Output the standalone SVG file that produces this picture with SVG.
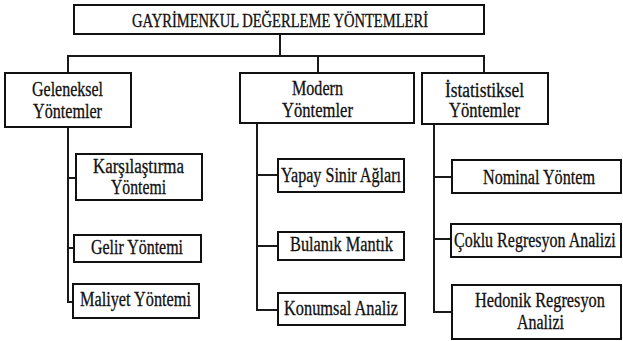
<svg xmlns="http://www.w3.org/2000/svg" width="623" height="341" viewBox="0 0 623 341">
<style>
.box{fill:#fff;stroke:#111;stroke-width:2}
.conn{fill:none;stroke:#1a1a1a;stroke-width:2}
.t{font-family:"Liberation Serif","DejaVu Serif",serif;font-size:20px;fill:#111;stroke:#111;stroke-width:0.3}
.title{font-size:18px}
</style>
<rect width="623" height="341" fill="#fff"/>
<g id="connectors">
<path class="conn" d="M280,34V56M68,73V56H484V73M318,56V73"/>
<path class="conn" d="M68,127V302H73M68,178H76M68,248H74"/>
<path class="conn" d="M257,123V310H278M257,175H278M257,246H278"/>
<path class="conn" d="M434,124V312H452M434,177H452M434,239H451"/>
</g>
<g id="root">
<rect class="box" x="74" y="5" width="410" height="29"/>
<text class="t title" x="132" y="26.5" textLength="296" lengthAdjust="spacingAndGlyphs">GAYRİMENKUL DEĞERLEME YÖNTEMLERİ</text>
</g>
<g id="geleneksel">
<rect class="box" x="5" y="73" width="126" height="54"/>
<text class="t" x="32" y="96" textLength="71" lengthAdjust="spacingAndGlyphs">Geleneksel</text>
<text class="t" x="33" y="118" textLength="69" lengthAdjust="spacingAndGlyphs">Yöntemler</text>
</g>
<g id="modern">
<rect class="box" x="240" y="73" width="174" height="50"/>
<text class="t" x="292" y="95" textLength="51" lengthAdjust="spacingAndGlyphs">Modern</text>
<text class="t" x="282" y="117" textLength="71" lengthAdjust="spacingAndGlyphs">Yöntemler</text>
</g>
<g id="istatistiksel">
<rect class="box" x="422" y="73" width="126" height="51"/>
<text class="t" x="445" y="97" textLength="79" lengthAdjust="spacingAndGlyphs">İstatistiksel</text>
<text class="t" x="449" y="117" textLength="71" lengthAdjust="spacingAndGlyphs">Yöntemler</text>
</g>
<g id="karsilastirma">
<rect class="box" x="76" y="154" width="126" height="46"/>
<text class="t" x="93" y="173" textLength="91" lengthAdjust="spacingAndGlyphs">Karşılaştırma</text>
<text class="t" x="111" y="194" textLength="55" lengthAdjust="spacingAndGlyphs">Yöntemi</text>
</g>
<g id="gelir">
<rect class="box" x="74" y="235" width="127" height="27"/>
<text class="t" x="91" y="254" textLength="92" lengthAdjust="spacingAndGlyphs">Gelir Yöntemi</text>
</g>
<g id="maliyet">
<rect class="box" x="73" y="284" width="126" height="34"/>
<text class="t" x="80" y="306" textLength="111" lengthAdjust="spacingAndGlyphs">Maliyet Yöntemi</text>
</g>
<g id="yapay">
<rect class="box" x="278" y="159" width="126" height="33"/>
<text class="t" x="281" y="182" textLength="120" lengthAdjust="spacingAndGlyphs">Yapay Sinir Ağları</text>
</g>
<g id="bulanik">
<rect class="box" x="278" y="232" width="126" height="28"/>
<text class="t" x="290" y="251" textLength="103" lengthAdjust="spacingAndGlyphs">Bulanık Mantık</text>
</g>
<g id="konumsal">
<rect class="box" x="278" y="293" width="127" height="32"/>
<text class="t" x="284" y="315" textLength="114" lengthAdjust="spacingAndGlyphs">Konumsal Analiz</text>
</g>
<g id="nominal">
<rect class="box" x="452" y="160" width="169" height="33"/>
<text class="t" x="483" y="183.5" textLength="112" lengthAdjust="spacingAndGlyphs">Nominal Yöntem</text>
</g>
<g id="coklu">
<rect class="box" x="451" y="224" width="170" height="33"/>
<text class="t" transform="translate(454,247) scale(0.80,1)" x="0" y="0">Çoklu Regresyon Analizi</text>
</g>
<g id="hedonik">
<rect class="box" x="452" y="285" width="169" height="54"/>
<text class="t" transform="translate(475,307) scale(0.815,1)" x="0" y="0">Hedonik Regresyon</text>
<text class="t" x="517" y="329" textLength="47" lengthAdjust="spacingAndGlyphs">Analizi</text>
</g>
</svg>
